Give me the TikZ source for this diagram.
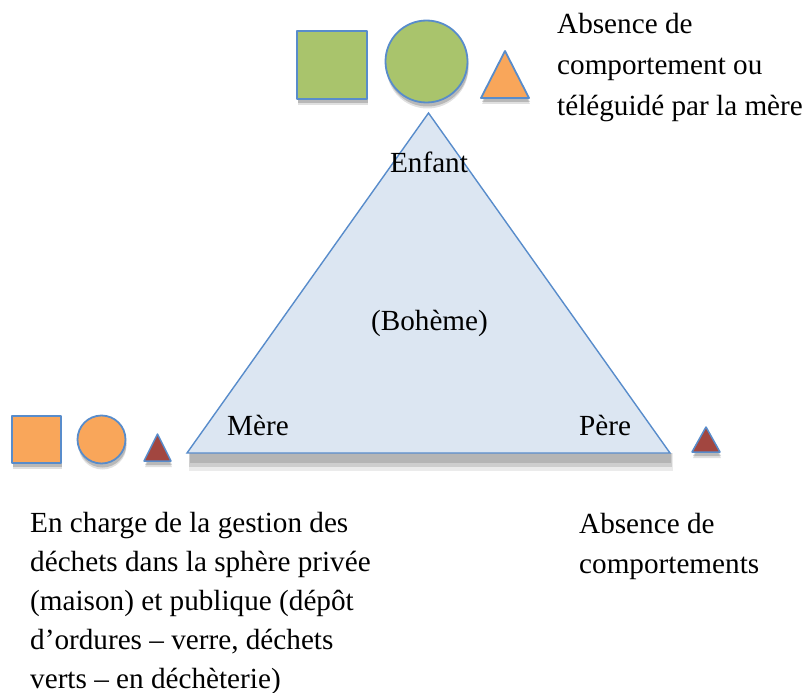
\documentclass[tikz,border=0pt]{standalone}
\usepackage{fontspec}
\setmainfont{Liberation Serif}
\usetikzlibrary{shadows}
\definecolor{edgeblue}{RGB}{88,140,203}
\definecolor{trifill}{RGB}{220,230,242}
\definecolor{greenfill}{RGB}{169,196,108}
\definecolor{orangefill}{RGB}{249,166,90}
\definecolor{redfill}{RGB}{162,70,64}
\tikzset{
  shp/.style={draw=edgeblue, line width=1.8pt, line join=round,
    drop shadow={shadow xshift=1pt, shadow yshift=-6pt, opacity=0.12, fill=black},
    drop shadow={shadow xshift=1pt, shadow yshift=-4pt, opacity=0.18, fill=black}},
  lbl/.style={font=\fontsize{29.2}{39}\selectfont, inner sep=0pt, text=black},
  para/.style={lbl, align=left, anchor=base west}
}
\begin{document}
\begin{tikzpicture}[x=1pt,y=-1pt]
\useasboundingbox (0,0) rectangle (804,693);
% main triangle
\coordinate (apex) at (428.5,113);
\coordinate (bl) at (187,453);
\coordinate (br) at (670,453);
\fill[black, opacity=0.08] (189,453) rectangle (673,471);
\fill[black, opacity=0.12] (189,453) rectangle (672,467);
\fill[black, opacity=0.12] (190,453) rectangle (671,463);
\filldraw[fill=trifill, draw=edgeblue, line width=1.4pt, line join=miter] (apex) -- (bl) -- (br) -- cycle;
% top shapes
\filldraw[shp, fill=greenfill] (297,31) rectangle (367,99);
\filldraw[shp, fill=greenfill] (426.5,61.5) circle (41);
\filldraw[shp, fill=orangefill] (505,51) -- (529,98) -- (481,98) -- cycle;
% bottom left shapes
\filldraw[shp, fill=orangefill] (12,416) rectangle (61,463);
\filldraw[shp, fill=orangefill] (101.5,439.5) circle (24);
\filldraw[shp, fill=redfill, line width=1.5pt] (157.5,434) -- (171,461) -- (144,461) -- cycle;
% right shape
\filldraw[shp, fill=redfill, line width=1.5pt] (706,427) -- (720,452) -- (692,452) -- cycle;
% labels
\node[lbl, anchor=base] (enfant) at (429,172) {Enfant};
\node[lbl, anchor=base] (boheme) at (429.5,330) {(Bohème)};
\node[lbl, anchor=base west] (mere) at (227,435) {Mère};
\node[lbl, anchor=base west] (pere) at (579,435) {Père};
\node[para, font=\fontsize{29.2}{41}\selectfont] (tr) at (557,115) {Absence de\\comportement ou\\téléguidé par la mère};
\node[para, font=\fontsize{29.2}{38.8}\selectfont] (blt) at (30,688) {En charge de la gestion des\\déchets dans la sphère privée\\(maison) et publique (dépôt\\d’ordures – verre, déchets\\verts – en déchèterie)};
\node[para, font=\fontsize{29.2}{40}\selectfont] (brt) at (579,573) {Absence de\\comportements};
\end{tikzpicture}
\end{document}
